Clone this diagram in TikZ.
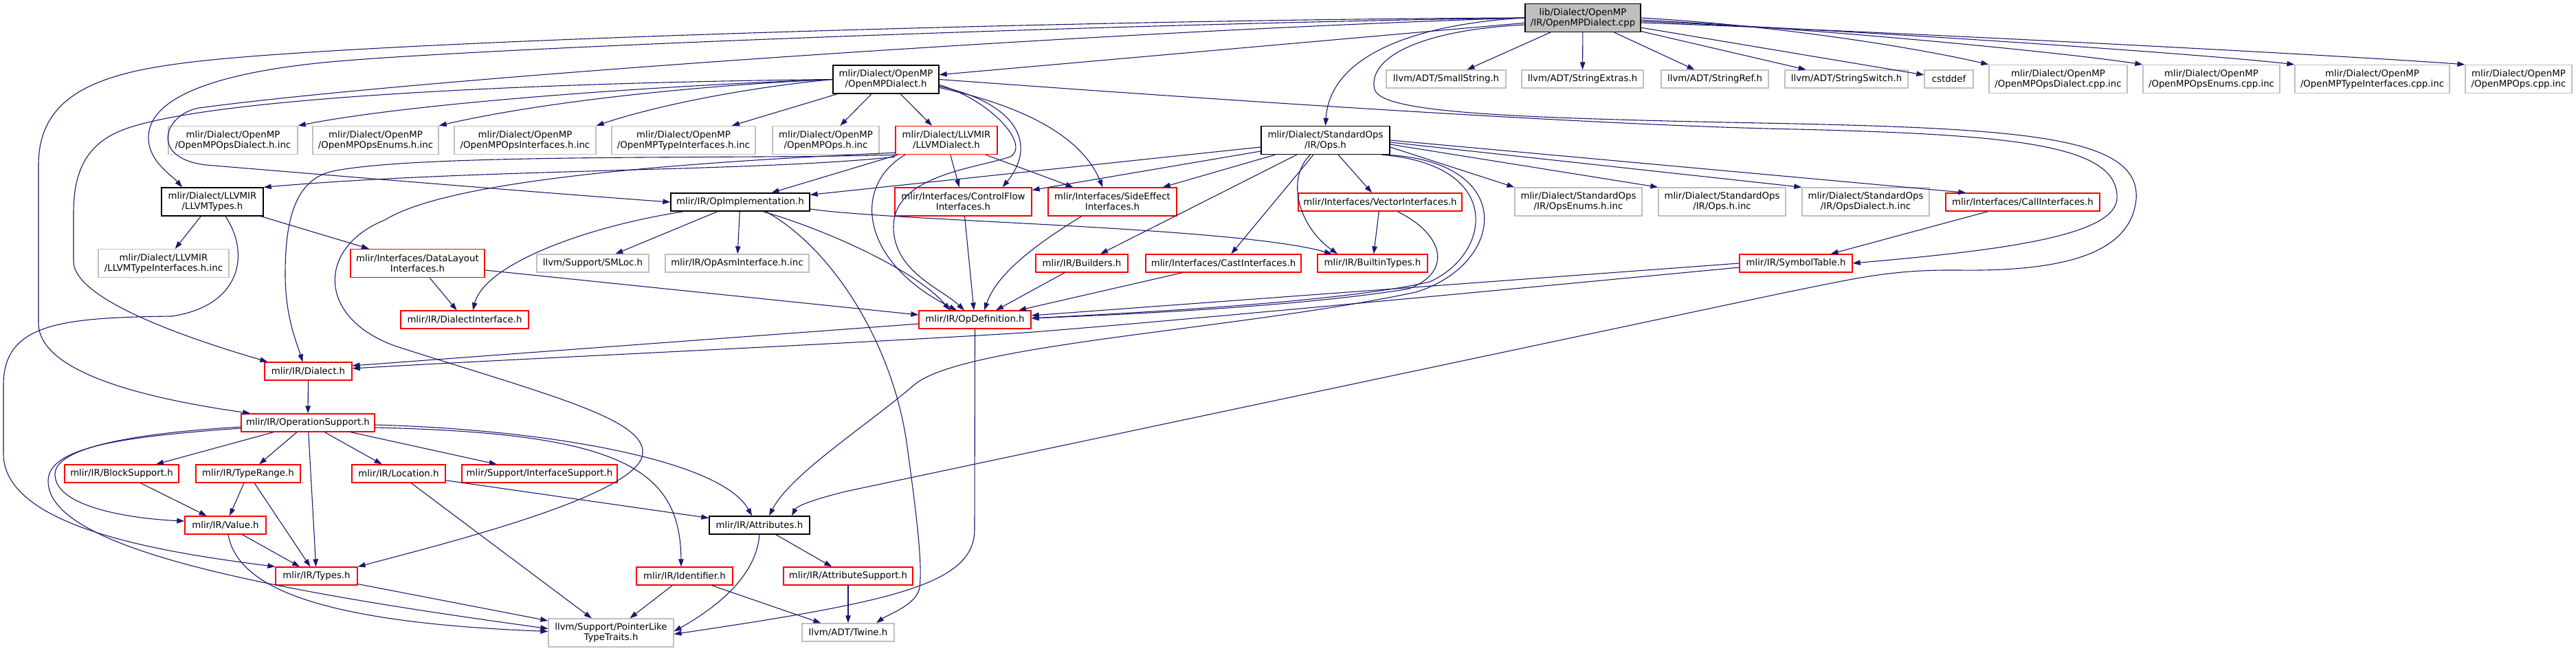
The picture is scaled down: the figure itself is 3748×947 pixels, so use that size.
\documentclass[tikz,border=0pt]{standalone}
\usepackage{fontspec}
\setmainfont{DejaVu Sans}
\usepackage{tikz}
\usetikzlibrary{arrows.meta}
\definecolor{edgeblue}{HTML}{191970}
\definecolor{nodegray}{HTML}{BFBFBF}
\begin{document}
\begin{tikzpicture}[
  x=1pt, y=-1pt,
  hdr/.style={rectangle, draw, line width=1.3pt, inner sep=0pt, minimum height=26pt,
    align=center, font=\fontsize{13.33}{15}\selectfont},
  two/.style={minimum height=41pt},
  known/.style={hdr, draw=black},
  trunc/.style={hdr, draw=red},
  ext/.style={hdr, draw=nodegray},
  rootfile/.style={hdr, draw=black, fill=nodegray},
  incl/.style={-{Triangle[length=11pt,width=7.5pt]}, draw=edgeblue, line width=1.1pt}
]
\useasboundingbox (0,0) rectangle (3748,947);

\node[rootfile, two, minimum width=168pt] (root) at (2303,26) {lib/Dialect/OpenMP\\/IR/OpenMPDialect.cpp};

\node[known, two, minimum width=154pt] (omph) at (1289,115.5) {mlir/Dialect/OpenMP\\/OpenMPDialect.h};
\node[ext, minimum width=174pt] (smallstr) at (2104,115) {llvm/ADT/SmallString.h};
\node[ext, minimum width=177pt] (strext) at (2302.5,115) {llvm/ADT/StringExtras.h};
\node[ext, minimum width=156pt] (strref) at (2495,115) {llvm/ADT/StringRef.h};
\node[ext, minimum width=179pt] (strsw) at (2686.5,115) {llvm/ADT/StringSwitch.h};
\node[ext, minimum width=71pt] (cstddef) at (2835.5,115) {cstddef};
\node[ext, two, minimum width=201pt] (dialcpp) at (2994.5,115) {mlir/Dialect/OpenMP\\/OpenMPOpsDialect.cpp.inc};
\node[ext, two, minimum width=199pt] (enumcpp) at (3217.5,115) {mlir/Dialect/OpenMP\\/OpenMPOpsEnums.cpp.inc};
\node[ext, two, minimum width=225pt] (typecpp) at (3451.5,115) {mlir/Dialect/OpenMP\\/OpenMPTypeInterfaces.cpp.inc};
\node[ext, two, minimum width=155pt] (opscpp) at (3664.5,115) {mlir/Dialect/OpenMP\\/OpenMPOps.cpp.inc};

\node[ext, two, minimum width=188pt] (dialinc) at (339,204) {mlir/Dialect/OpenMP\\/OpenMPOpsDialect.h.inc};
\node[ext, two, minimum width=183pt] (enuminc) at (546.5,204) {mlir/Dialect/OpenMP\\/OpenMPOpsEnums.h.inc};
\node[ext, two, minimum width=206pt] (ifaceinc) at (764,204) {mlir/Dialect/OpenMP\\/OpenMPOpsInterfaces.h.inc};
\node[ext, two, minimum width=209pt] (typeinc) at (994.5,204) {mlir/Dialect/OpenMP\\/OpenMPTypeInterfaces.h.inc};
\node[ext, two, minimum width=155pt] (opsinc) at (1201.5,204) {mlir/Dialect/OpenMP\\/OpenMPOps.h.inc};
\node[trunc, two, minimum width=148pt] (llvmdia) at (1377,204) {mlir/Dialect/LLVMIR\\/LLVMDialect.h};
\node[known, two, minimum width=187pt] (stdops) at (1928.5,204) {mlir/Dialect/StandardOps\\/IR/Ops.h};

\node[known, two, minimum width=148pt] (llvmtypes) at (309,293.5) {mlir/Dialect/LLVMIR\\/LLVMTypes.h};
\node[known, minimum width=202pt] (opimpl) at (1077,294) {mlir/IR/OpImplementation.h};
\node[trunc, two, minimum width=199pt] (ctrlflow) at (1401.5,293.5) {mlir/Interfaces/ControlFlow\\Interfaces.h};
\node[trunc, two, minimum width=187pt] (sideeff) at (1618.5,293.5) {mlir/Interfaces/SideEffect\\Interfaces.h};
\node[trunc, minimum width=238pt] (vecif) at (2008,294) {mlir/Interfaces/VectorInterfaces.h};
\node[ext, two, minimum width=185pt] (opsenums) at (2296.5,293.5) {mlir/Dialect/StandardOps\\/IR/OpsEnums.h.inc};
\node[ext, two, minimum width=185pt] (opshinc) at (2505.5,293.5) {mlir/Dialect/StandardOps\\/IR/Ops.h.inc};
\node[ext, two, minimum width=185pt] (opsdialinc) at (2714.5,293.5) {mlir/Dialect/StandardOps\\/IR/OpsDialect.h.inc};
\node[trunc, minimum width=224pt] (callif) at (2943,294) {mlir/Interfaces/CallInterfaces.h};

\node[ext, two, minimum width=190pt] (llvmtyif) at (238,383) {mlir/Dialect/LLVMIR\\/LLVMTypeInterfaces.h.inc};
\node[trunc, two, minimum width=195pt] (datalayout) at (607.5,383) {mlir/Interfaces/DataLayout\\Interfaces.h};
\node[ext, minimum width=163pt] (smloc) at (862.5,383) {llvm/Support/SMLoc.h};
\node[ext, minimum width=209pt] (opasm) at (1072.5,383) {mlir/IR/OpAsmInterface.h.inc};
\node[trunc, minimum width=134pt] (builders) at (1574,383) {mlir/IR/Builders.h};
\node[trunc, minimum width=226pt] (castif) at (1780,383) {mlir/Interfaces/CastInterfaces.h};
\node[trunc, minimum width=160pt] (builtin) at (1997,383) {mlir/IR/BuiltinTypes.h};
\node[trunc, minimum width=164pt] (symtab) at (2613,383) {mlir/IR/SymbolTable.h};

\node[trunc, minimum width=186pt] (dialif) at (676,465) {mlir/IR/DialectInterface.h};
\node[trunc, minimum width=163pt] (opdef) at (1418.5,465) {mlir/IR/OpDefinition.h};

\node[trunc, minimum width=127pt] (dialect) at (448.5,540) {mlir/IR/Dialect.h};
\node[trunc, minimum width=194pt] (opsupp) at (448,615) {mlir/IR/OperationSupport.h};

\node[trunc, minimum width=166pt] (blocksupp) at (177,689) {mlir/IR/BlockSupport.h};
\node[trunc, minimum width=152pt] (typerange) at (361,689) {mlir/IR/TypeRange.h};
\node[trunc, minimum width=136pt] (location) at (580,689) {mlir/IR/Location.h};
\node[trunc, minimum width=226pt] (ifacesupp) at (785,689) {mlir/Support/InterfaceSupport.h};

\node[trunc, minimum width=118pt] (value) at (328,764) {mlir/IR/Value.h};
\node[known, minimum width=146pt] (attrs) at (1105,764) {mlir/IR/Attributes.h};

\node[trunc, minimum width=119pt] (types) at (460.5,838) {mlir/IR/Types.h};
\node[trunc, minimum width=140pt] (ident) at (996,838) {mlir/IR/Identifier.h};
\node[trunc, minimum width=188pt] (attrsupp) at (1234,838) {mlir/IR/AttributeSupport.h};

\node[ext, two, minimum width=182pt] (ptrlike) at (889,920.5) {llvm/Support/PointerLike\\TypeTraits.h};
\node[ext, minimum width=134pt] (twine) at (1234,920) {llvm/ADT/Twine.h};

\draw[incl] (root) -- (omph);
\draw[incl] (root) -- (smallstr);
\draw[incl] (root) -- (strext);
\draw[incl] (root) -- (strref);
\draw[incl] (root) -- (strsw);
\draw[incl] (root) -- (cstddef);
\draw[incl] (root.east) .. controls (2600,38) and (2800,72) .. (dialcpp.north west);
\draw[incl] ([yshift=-3pt]root.east) .. controls (2650,42) and (3000,76) .. (enumcpp.north west);
\draw[incl] ([yshift=-5pt]root.east) .. controls (2700,44) and (3200,78) .. (typecpp.north west);
\draw[incl] ([yshift=-7pt]root.east) .. controls (2750,46) and (3400,80) .. (opscpp.north west);
\draw[incl] (root.west) .. controls (2060,35) and (1935,80) .. (stdops.north);
\draw[incl] (root.west) .. controls (1600,28) and (500,60) .. (265,92) .. controls (140,108) and (56,140) .. (56,240) -- (56,470) .. controls (56,550) and (250,585) .. ([xshift=14pt]opsupp.north west);
\draw[incl] (root.west) .. controls (1600,35) and (700,70) .. (481,90) .. controls (320,105) and (216,140) .. (216,200) .. controls (216,235) and (250,255) .. ([xshift=-44pt]llvmtypes.north);
\draw[incl] (root.west) .. controls (1600,45) and (600,115) .. (290,157) .. controls (240,165) and (215,230) .. (300,240) .. controls (600,265) and (850,285) .. (opimpl.west);
\draw[incl] ([yshift=-10pt]root.west) .. controls (2050,45) and (1990,90) .. (2000,130) .. controls (2010,165) and (2200,172) .. (2613,180) .. controls (2950,188) and (3115,200) .. (3108,290) .. controls (3100,370) and (3000,395) .. (2850,393) .. controls (2750,392) and (2700,405) .. (2600,425) -- (1230,715) .. controls (1190,725) and (1160,735) .. ([xshift=47pt]attrs.north);

\draw[incl] (omph.west) .. controls (950,125) and (600,150) .. (dialinc.north east);
\draw[incl] (omph.west) .. controls (1000,125) and (780,150) .. (enuminc.north east);
\draw[incl] (omph.west) .. controls (1080,128) and (950,155) .. (ifaceinc.north east);
\draw[incl] (omph) -- (typeinc);
\draw[incl] (omph) -- (opsinc);
\draw[incl] (omph) -- (llvmdia);
\draw[incl] (omph.west) .. controls (800,120) and (330,140) .. (190,185) .. controls (125,205) and (107,250) .. (107,310) -- (107,380) .. controls (107,440) and (300,500) .. ([xshift=5pt]dialect.north west);
\draw[incl] ([yshift=-8pt]omph.east) .. controls (1440,145) and (1500,210) .. (1470,228) .. controls (1420,245) and (1300,255) .. (1300,330) .. controls (1300,395) and (1370,420) .. ([xshift=-15.5pt]opdef.north);
\draw[incl] ([yshift=-10pt]omph.east) .. controls (1480,150) and (1510,210) .. ([xshift=57pt]ctrlflow.north);
\draw[incl] ([yshift=-12pt]omph.east) .. controls (1470,150) and (1570,190) .. ([xshift=-14pt]sideeff.north);
\draw[incl] (omph.east) .. controls (1700,140) and (2300,182) .. (2613,188) .. controls (2930,196) and (3085,210) .. (3080,290) .. controls (3075,345) and (2900,365) .. (symtab.east);

\draw[incl] (llvmdia) -- (opimpl);
\draw[incl] (llvmdia) -- (ctrlflow);
\draw[incl] (llvmdia) -- (sideeff);
\draw[incl] ([xshift=-60pt]llvmdia.south) .. controls (1240,270) and (1250,380) .. ([xshift=-26.5pt]opdef.north);
\draw[incl] (llvmdia.south west) .. controls (1100,232) and (600,222) .. (480,250) .. controls (425,265) and (415,330) .. (415,400) .. controls (415,460) and (432,500) .. ([xshift=-8pt]dialect.north);
\draw[incl] ([yshift=-3pt]llvmdia.south west) .. controls (1100,250) and (700,245) .. (llvmtypes.north east);
\draw[incl] ([yshift=3pt]llvmdia.south west) .. controls (900,240) and (640,270) .. (560,320) .. controls (460,360) and (460,465) .. (580,505) .. controls (800,575) and (940,610) .. (935,660) .. controls (930,720) and (650,790) .. (types.north east);

\draw[incl] (stdops) -- (opimpl);
\draw[incl] (stdops) -- (ctrlflow);
\draw[incl] (stdops) -- (sideeff);
\draw[incl] (stdops) -- (builders);
\draw[incl] (stdops) -- (castif);
\draw[incl] (stdops) -- (vecif);
\draw[incl] ([xshift=-22pt]stdops.south) .. controls (1870,260) and (1890,330) .. ([xshift=-51pt]builtin.north);
\draw[incl] ([yshift=-10pt]stdops.east) -- (opsenums.north west);
\draw[incl] ([yshift=-6pt]stdops.east) -- (opshinc.north west);
\draw[incl] ([yshift=-3pt]stdops.east) -- (opsdialinc.north west);
\draw[incl] (stdops.east) -- ([xshift=30pt]callif.north west);
\draw[incl] ([xshift=82pt]stdops.south) .. controls (2190,240) and (2170,370) .. (2080,410) .. controls (1950,440) and (1650,455) .. ([yshift=2pt]opdef.east);
\draw[incl] ([xshift=88pt]stdops.south) .. controls (2210,235) and (2190,385) .. (2060,425) .. controls (1800,480) and (1400,500) .. (1330,560) .. controls (1260,620) and (1150,690) .. ([xshift=14pt]attrs.north);

\draw[incl] (vecif) -- (builtin);
\draw[incl] ([xshift=25pt]vecif.south) .. controls (2100,340) and (2115,395) .. (2050,420) .. controls (1900,445) and (1650,457) .. ([yshift=2pt]opdef.east);
\draw[incl] (callif) -- (symtab);
\draw[incl] (symtab.west) -- ([yshift=6pt]opdef.east);
\draw[incl] ([yshift=-6pt]symtab.west) .. controls (2100,430) and (1650,472) .. (1490,484) .. controls (1200,502) and (750,522) .. ([yshift=4pt]dialect.east);

\draw[incl] (ctrlflow) -- ([xshift=-1.5pt]opdef.north);
\draw[incl] ([xshift=-45pt]sideeff.south) .. controls (1500,360) and (1450,400) .. ([xshift=13.5pt]opdef.north);
\draw[incl] (builders) -- ([xshift=30.5pt]opdef.north);
\draw[incl] (castif) -- ([xshift=63.5pt]opdef.north);

\draw[incl] (opimpl) -- (smloc);
\draw[incl] (opimpl) -- (opasm);
\draw[incl] ([xshift=33pt]opimpl.south) .. controls (1220,340) and (1340,400) .. ([xshift=-36.5pt]opdef.north);
\draw[incl] ([xshift=-82pt]opimpl.south) .. controls (850,330) and (705,385) .. ([xshift=12pt]dialif.north);
\draw[incl] ([xshift=37pt]opimpl.south) .. controls (1210,360) and (1300,500) .. (1320,650) .. controls (1335,760) and (1342,820) .. (1338,855) .. controls (1334,880) and (1290,895) .. ([xshift=41pt]twine.north);
\draw[incl] ([yshift=-10pt]opimpl.east) .. controls (1300,322) and (1800,330) .. ([xshift=-59pt]builtin.north);

\draw[incl] (llvmtypes) -- (llvmtyif);
\draw[incl] (llvmtypes) -- (datalayout);
\draw[incl] ([xshift=19pt]llvmtypes.south) .. controls (365,370) and (350,445) .. (250,460) .. controls (90,462) and (5,470) .. (5,560) -- (5,660) .. controls (5,770) and (250,805) .. (types.north west);
\draw[incl] (datalayout) -- (dialif);
\draw[incl] (datalayout) -- ([yshift=7pt]opdef.west);

\draw[incl] (opdef) -- ([yshift=8pt]dialect.east);
\draw[incl] (opdef.south) -- (1418,770) .. controls (1418,850) and (1300,875) .. ([yshift=-2pt]ptrlike.east);
\draw[incl] (dialect) -- (opsupp);

\draw[incl] (opsupp) -- (blocksupp);
\draw[incl] (opsupp) -- (typerange);
\draw[incl] (opsupp) -- (location);
\draw[incl] (opsupp) -- (ifacesupp);
\draw[incl] (opsupp) -- (types);
\draw[incl] ([yshift=-6pt]opsupp.west) .. controls (200,630) and (80,650) .. (80,690) .. controls (80,740) and (200,755) .. ([yshift=6pt]value.west);
\draw[incl] ([yshift=-8pt]opsupp.west) .. controls (180,635) and (70,650) .. (70,700) .. controls (70,800) and (400,860) .. ([yshift=6pt]ptrlike.west);
\draw[incl] ([yshift=-3pt]opsupp.east) .. controls (800,625) and (1050,670) .. ([xshift=-11pt]attrs.north);
\draw[incl] ([yshift=-7pt]opsupp.east) .. controls (900,630) and (990,680) .. ([xshift=-5pt]ident.north);

\draw[incl] (blocksupp) -- (value);
\draw[incl] (typerange) -- (value);
\draw[incl] (typerange) -- (types);
\draw[incl] (location) -- (attrs);
\draw[incl] (location) -- (ptrlike);
\draw[incl] (value) -- (types);
\draw[incl] ([xshift=4pt]value.south) .. controls (345,850) and (450,905) .. ([yshift=2pt]ptrlike.west);
\draw[incl] (types) -- (ptrlike);
\draw[incl] (ident) -- (ptrlike);
\draw[incl] (ident) -- (twine);
\draw[incl] (attrs) -- (attrsupp);
\draw[incl] (attrs.south) .. controls (1100,840) and (1040,885) .. ([yshift=2pt]ptrlike.east);
\draw[incl] (attrsupp) -- (twine);
\end{tikzpicture}
\end{document}
